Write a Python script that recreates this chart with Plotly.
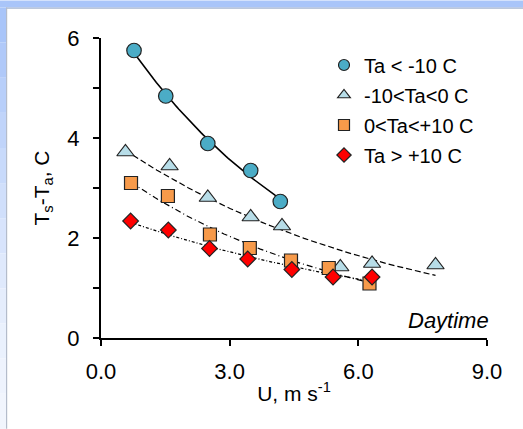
import numpy as np
import plotly.graph_objects as go

# ---- data ----
u_cold = [0.77, 1.51, 2.49, 3.49, 4.18]
d_cold = [5.75, 4.84, 3.89, 3.35, 2.73]

u_cool = [0.57, 1.60, 2.49, 3.49, 4.22, 5.58, 6.32, 7.80]
d_cool = [3.72, 3.44, 2.81, 2.42, 2.24, 1.42, 1.49, 1.46]

u_mild = [0.70, 1.56, 2.54, 3.47, 4.43, 5.31, 6.26]
d_mild = [3.10, 2.84, 2.07, 1.80, 1.55, 1.40, 1.09]

u_warm = [0.69, 1.57, 2.53, 3.42, 4.45, 5.41, 6.32]
d_warm = [2.34, 2.16, 1.79, 1.58, 1.37, 1.22, 1.22]

names = ["Ta < -10 C", "-10<Ta<0 C", "0<Ta<+10 C", "Ta > +10 C"]
x_ticks = [0, 3, 6, 9]
x_tick_text = ["0.0", "3.0", "6.0", "9.0"]
y_ticks = [0, 2, 4, 6]

# ---- styling ----
W, H = 523, 429
ML, MR, MT, MB = 101, 36, 37.5, 91
PW, PH = W - ML - MR, H - MT - MB
FONT = "Arial, Liberation Sans, sans-serif"
TICK_FS = 22
TITLE_FS = 21

series = [
    (u_cold, d_cold, dict(symbol="circle", size=14.5, color="#4bacc6"), "solid", 1.6),
    (u_cool, d_cool, dict(symbol="triangle-up", size=15, color="#b7dde8"), "6px,3px", 1.2),
    (u_mild, d_mild, dict(symbol="square", size=13, color="#f79a4a"), "6px,3px,1px,3px", 1.2),
    (u_warm, d_warm, dict(symbol="diamond", size=12, color="#ff0000"), "3px,2px,1px,2px", 1.2),
]

fig = go.Figure()

# exponential trendlines (least squares on log values, like a spreadsheet trendline)
for xs, ys, mk, dash, lw in series:
    xa, ya = np.array(xs), np.array(ys)
    b, a = np.polyfit(xa, np.log(ya), 1)
    xf = np.linspace(xa.min(), xa.max(), 60)
    fig.add_trace(go.Scatter(x=xf, y=np.exp(a + b * xf), mode="lines",
                             line=dict(color="black", width=lw, dash=dash),
                             showlegend=False, hoverinfo="skip"))

for (xs, ys, mk, dash, lw), nm in zip(series, names):
    fig.add_trace(go.Scatter(x=xs, y=ys, mode="markers", name=nm, showlegend=False,
                             marker=dict(symbol=mk["symbol"], size=mk["size"], color=mk["color"],
                                         line=dict(color="#222222", width=1.2))))

for i, ((xs, ys, mk, dash, lw), nm) in enumerate(zip(series, names)):
    fig.add_trace(go.Scatter(x=[None], y=[None], mode="markers", name=nm,
                             legendgroup=str(i),
                             marker=dict(symbol=mk["symbol"], size=11, color=mk["color"],
                                         line=dict(color="#222222", width=1.2))))


def px(x):
    return (x - ML) / PW


def py(y):
    return (H - MB - y) / PH


shapes = []
# top blue band
shapes.append(dict(type="rect", xref="paper", yref="paper", x0=px(0), x1=px(W), y0=py(0), y1=py(7),
                   fillcolor="#a9c5f9", line=dict(width=0), layer="above"))
shapes.append(dict(type="rect", xref="paper", yref="paper", x0=px(6), x1=px(W), y0=py(7), y1=py(8.2),
                   fillcolor="#a4b4cf", line=dict(width=0), layer="above"))
# left gradient band
left_cols = ["#a9c5f9", "#b0c9f9", "#b8cffa", "#c0d4fa", "#c8dafb", "#d0dffb",
             "#d8e4fc", "#dfe9fc", "#e5edfc", "#eaf1fd", "#eef3fd", "#f1f5fd"]
n = len(left_cols)
for k, c in enumerate(left_cols):
    y0 = 7 + k * (H - 7) / n
    y1 = 7 + (k + 1) * (H - 7) / n
    shapes.append(dict(type="rect", xref="paper", yref="paper", x0=px(0), x1=px(6), y0=py(y0), y1=py(y1),
                       fillcolor=c, line=dict(width=0), layer="above"))
shapes.append(dict(type="rect", xref="paper", yref="paper", x0=px(6), x1=px(7.2), y0=py(7), y1=py(H),
                   fillcolor="#b4bccb", line=dict(width=0), layer="above"))

fig.update_layout(
    width=W, height=H,
    margin=dict(l=ML, r=MR, t=MT, b=MB, pad=0, autoexpand=False),
    paper_bgcolor="white", plot_bgcolor="white",
    font=dict(family=FONT, size=TICK_FS, color="black"),
    shapes=shapes,
    showlegend=True,
    legend=dict(x=px(324), y=py(45), xanchor="left", yanchor="top",
                bgcolor="rgba(0,0,0,0)", font=dict(size=20, family=FONT, color="black"),
                traceorder="grouped", tracegroupgap=1, itemwidth=30),
    annotations=[dict(text="<i>Daytime</i>", xref="paper", yref="paper", x=px(491), y=py(320),
                      xanchor="right", yanchor="middle", showarrow=False,
                      font=dict(size=22, family=FONT, color="black"))],
    xaxis=dict(range=[0, 9], tickvals=x_ticks, ticktext=x_tick_text, showgrid=False, zeroline=False,
               automargin=False, tickfont=dict(size=TICK_FS, family=FONT, color="black"),
               showline=True, linecolor="black", linewidth=2.2, ticks="outside", ticklen=6,
               tickwidth=2, tickcolor="black", ticklabelstandoff=6,
               title=dict(text="U, m s<sup>-1</sup>", standoff=4,
                          font=dict(size=TITLE_FS, family=FONT, color="black"))),
    yaxis=dict(range=[0, 6], tickvals=y_ticks, showgrid=False, zeroline=False,
               automargin=False, tickfont=dict(size=TICK_FS, family=FONT, color="black"),
               showline=True, linecolor="black", linewidth=2.2, ticks="outside", ticklen=6,
               tickwidth=1.5, tickcolor="black", ticklabelstandoff=9,
               minor=dict(dtick=1, ticks="outside", ticklen=6, tickwidth=1.5, tickcolor="black"),
               title=dict(text="T<sub>s</sub>-T<sub>a</sub>, C", standoff=12,
                          font=dict(size=TITLE_FS, family=FONT, color="black"))),
)

fig.write_html("out.html", config={"displayModeBar": False},
               post_script="document.body.style.margin='0';document.body.style.padding='0';")
